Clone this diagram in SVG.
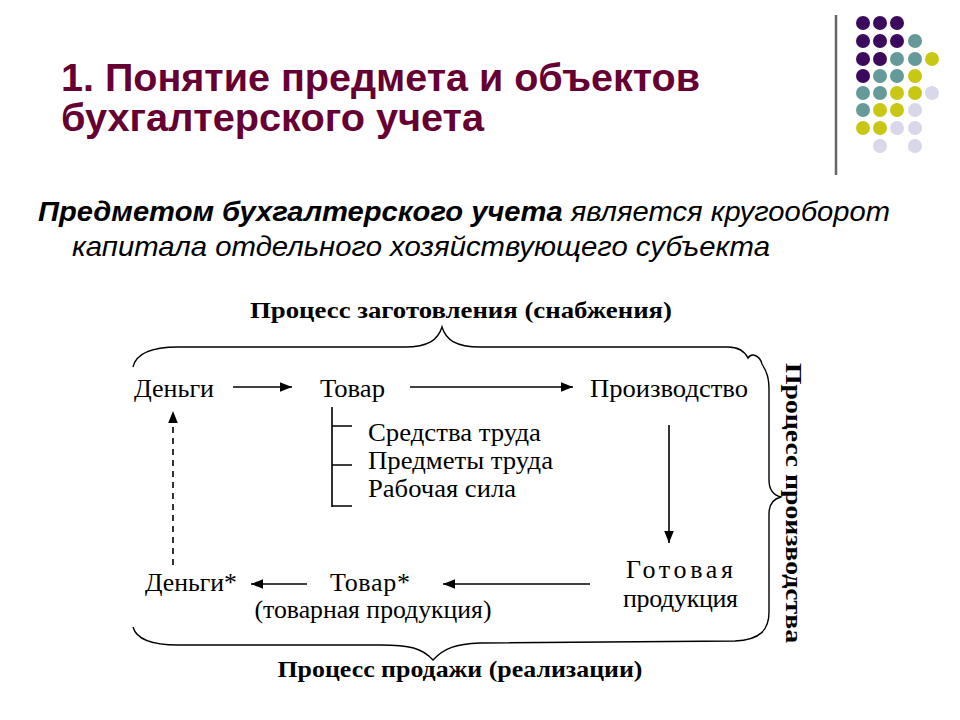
<svg xmlns="http://www.w3.org/2000/svg" width="960" height="720" viewBox="0 0 960 720">
<defs>
<style>
.title{font-family:"Liberation Sans",Arial,sans-serif;font-weight:bold;font-size:38px;fill:#660033}
.sub{font-family:"Liberation Sans",Arial,sans-serif;font-style:italic;font-size:28px;fill:#000}
.lbl{font-family:"Liberation Serif","Times New Roman",serif;font-size:26px;fill:#000}
.blbl{font-family:"Liberation Serif","Times New Roman",serif;font-weight:bold;font-size:23px;fill:#000}
.ln{stroke:#000;stroke-width:1.6;fill:none}
.br{stroke:#000;stroke-width:1.4;fill:none}
.p{fill:#3c0a5c}.t{fill:#669999}.y{fill:#c8c814}.l{fill:#d8d8ea}
</style>
<marker id="ahb" viewBox="0 0 10 10" refX="10" refY="5" markerWidth="12" markerHeight="12" markerUnits="userSpaceOnUse" orient="auto"><path d="M0,1 L10,5 L0,9 z" fill="#000"/></marker>
</defs>
<rect width="960" height="720" fill="#fff"/>
<g id="decor">
<line x1="836" y1="15" x2="836" y2="175" stroke="#666" stroke-width="2.5"/>
<circle class="p" cx="863" cy="23" r="7"/><circle class="p" cx="880" cy="23" r="7"/><circle class="p" cx="897" cy="23" r="7"/>
<circle class="p" cx="863" cy="41" r="7"/><circle class="p" cx="880" cy="41" r="7"/><circle class="p" cx="897" cy="41" r="7"/><circle class="t" cx="915" cy="41" r="7"/>
<circle class="p" cx="863" cy="59" r="7"/><circle class="p" cx="880" cy="59" r="7"/><circle class="t" cx="897" cy="59" r="7"/><circle class="t" cx="915" cy="59" r="7"/><circle class="y" cx="932" cy="59" r="7"/>
<circle class="p" cx="863" cy="76" r="7"/><circle class="t" cx="880" cy="76" r="7"/><circle class="t" cx="897" cy="76" r="7"/><circle class="y" cx="915" cy="76" r="7"/>
<circle class="t" cx="863" cy="93" r="7"/><circle class="t" cx="880" cy="93" r="7"/><circle class="y" cx="897" cy="93" r="7"/><circle class="y" cx="915" cy="93" r="7"/><circle class="l" cx="932" cy="93" r="7"/>
<circle class="t" cx="863" cy="110" r="7"/><circle class="y" cx="880" cy="110" r="7"/><circle class="y" cx="897" cy="110" r="7"/><circle class="l" cx="915" cy="110" r="7"/>
<circle class="y" cx="863" cy="128" r="7"/><circle class="y" cx="880" cy="128" r="7"/><circle class="l" cx="897" cy="128" r="7"/><circle class="l" cx="915" cy="128" r="7"/>
<circle class="l" cx="880" cy="146" r="7"/><circle class="l" cx="915" cy="146" r="7"/>
</g>
<g id="title">
<text class="title" x="61" y="91" textLength="639" lengthAdjust="spacingAndGlyphs">1. Понятие предмета и объектов</text>
<text class="title" x="61" y="131" textLength="423" lengthAdjust="spacingAndGlyphs">бухгалтерского учета</text>
</g>
<g id="subtitle">
<text class="sub" x="38" y="221" textLength="852" lengthAdjust="spacingAndGlyphs"><tspan font-weight="bold">Предметом бухгалтерского учета</tspan> является кругооборот</text>
<text class="sub" x="72" y="256" textLength="698" lengthAdjust="spacingAndGlyphs">капитала отдельного хозяйствующего субъекта</text>
</g>
<g id="braces">
<path class="br" d="M133,367 C136,354 150,347 178,347 L405,347 C428,347 438,340 442,327 C446,340 456,347 480,347 L728,347 C740,347 745,352 748,358 C752,352 760,356 762,364 C767,372 769,378 769,390 L769,480 C769,490 773,495 781,497 C773,499 769,504 769,514 L769,612 C769,630 760,640 735,641 L480,643 C456,644 444,648 433,660 C422,648 410,645 380,645 L178,645 C150,645 136,638 133,627"/>
</g>
<g id="n-proc-zag"><text class="blbl" x="461" y="318" text-anchor="middle" textLength="422" lengthAdjust="spacingAndGlyphs">Процесс заготовления (снабжения)</text></g>
<g id="n-proc-prod"><text class="blbl" transform="translate(794,503) rotate(90)" x="0" y="0" text-anchor="middle" dy="0.35em" textLength="280" lengthAdjust="spacingAndGlyphs">Процесс производства</text></g>
<g id="n-proc-real"><text class="blbl" x="460" y="677" text-anchor="middle" textLength="365" lengthAdjust="spacingAndGlyphs">Процесс продажи (реализации)</text></g>
<g id="n-dengi"><text class="lbl" x="134" y="397" textLength="80" lengthAdjust="spacingAndGlyphs">Деньги</text></g>
<g id="n-tovar"><text class="lbl" x="320" y="397" textLength="65" lengthAdjust="spacingAndGlyphs">Товар</text></g>
<g id="n-proizv"><text class="lbl" x="590" y="397" textLength="158" lengthAdjust="spacingAndGlyphs">Производство</text></g>
<g id="n-sostav">
<path class="ln" d="M332,407 L332,507 M332,426 L352,426 M332,465 L352,465 M332,506 L352,506" stroke-width="1.2"/>
<text class="lbl" x="368" y="441" textLength="173" lengthAdjust="spacingAndGlyphs">Средства труда</text>
<text class="lbl" x="368" y="469" textLength="185" lengthAdjust="spacingAndGlyphs">Предметы труда</text>
<text class="lbl" x="368" y="497" textLength="148" lengthAdjust="spacingAndGlyphs">Рабочая сила</text>
</g>
<g id="n-gotov">
<text class="lbl" x="626" y="578" textLength="107" lengthAdjust="spacing">Готовая</text>
<text class="lbl" x="623" y="607" textLength="115" lengthAdjust="spacing">продукция</text>
</g>
<g id="n-tovar2">
<text class="lbl" x="330" y="591" textLength="80" lengthAdjust="spacing">Товар*</text>
<text class="lbl" x="373" y="618" text-anchor="middle" textLength="237" lengthAdjust="spacingAndGlyphs">(товарная продукция)</text>
</g>
<g id="n-dengi2"><text class="lbl" x="145" y="591" textLength="92" lengthAdjust="spacingAndGlyphs">Деньги*</text></g>
<g id="connectors">
<line class="ln" x1="233" y1="387" x2="292" y2="387" marker-end="url(#ahb)"/>
<line class="ln" x1="410" y1="387" x2="573" y2="387" marker-end="url(#ahb)"/>
<line class="ln" x1="669" y1="425" x2="669" y2="543" marker-end="url(#ahb)"/>
<line class="ln" x1="590" y1="584" x2="443" y2="584" marker-end="url(#ahb)"/>
<line class="ln" x1="307" y1="584" x2="251" y2="584" marker-end="url(#ahb)"/>
<line class="ln" x1="173" y1="565" x2="173" y2="411" stroke-dasharray="6,5" marker-end="url(#ahb)"/>
</g>
</svg>
